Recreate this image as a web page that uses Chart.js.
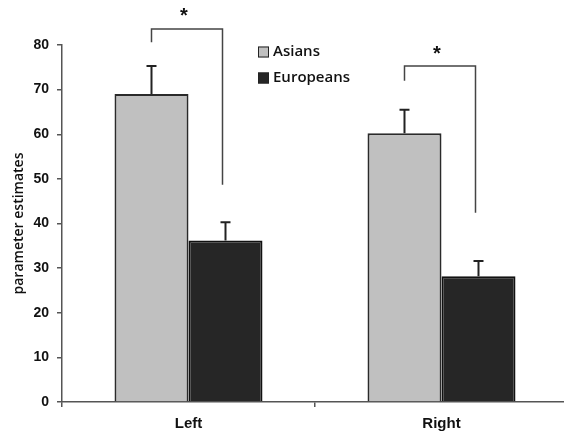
<!DOCTYPE html>
<html>
<head>
<meta charset="utf-8">
<script src="https://cdn.jsdelivr.net/npm/chart.js@4/dist/chart.umd.min.js"></script>
<style>
  html, body { margin: 0; padding: 0; background: #fff; overflow: hidden; }
  #wrap { width: 568px; height: 433px; position: relative; }
</style>
</head>
<body>
<div id="wrap"><canvas id="chart"></canvas></div>
<script>
const categories = ['Left', 'Right'];
const asians = [69.0, 60.2];
const europeans = [36.2, 28.2];
// upper error bar length
const asiansErr = [6.3, 5.3];
const europeansErr = [4.1, 3.4];
// significance brackets (in y units)
const bracketTop = [83.6, 75.3];
const bracketLeftEnd = [80.6, 72.0];
const bracketRightEnd = [48.7, 42.4];
const starY = [87.2, 78.8];
const yTicks = [0, 10, 20, 30, 40, 50, 60, 70, 80];

const ctx = document.getElementById('chart').getContext('2d');

const extras = {
  id: 'extras',
  afterDatasetsDraw(chart) {
    const c = chart.ctx;
    const y = chart.scales.y;
    const errs = [asiansErr, europeansErr];
    c.save();
    // error bars
    chart.data.datasets.forEach((ds, di) => {
      const meta = chart.getDatasetMeta(di);
      meta.data.forEach((bar, i) => {
        const top = y.getPixelForValue(ds.data[i] + errs[di][i]);
        c.strokeStyle = '#222';
        c.lineWidth = 2;
        c.beginPath();
        c.moveTo(bar.x, bar.y);
        c.lineTo(bar.x, top);
        c.moveTo(bar.x - 5, top);
        c.lineTo(bar.x + 5, top);
        c.stroke();
      });
    });
    // brackets
    const a = chart.getDatasetMeta(0).data;
    const e = chart.getDatasetMeta(1).data;
    categories.forEach((cat, i) => {
      const x1 = a[i].x, x2 = e[i].x - 3;
      c.strokeStyle = '#444';
      c.lineWidth = 1.5;
      c.beginPath();
      c.moveTo(x1, y.getPixelForValue(bracketLeftEnd[i]));
      c.lineTo(x1, y.getPixelForValue(bracketTop[i]));
      c.lineTo(x2, y.getPixelForValue(bracketTop[i]));
      c.lineTo(x2, y.getPixelForValue(bracketRightEnd[i]));
      c.stroke();
      c.fillStyle = '#111';
      c.font = 'bold 20px "Liberation Sans", Arial, sans-serif';
      c.textAlign = 'center';
      c.textBaseline = 'middle';
      c.fillText('*', (x1 + x2) / 2 - 3, y.getPixelForValue(starY[i]) + 4);
    });
    // legend
    c.font = '600 15px "Open Sans", sans-serif';
    c.textAlign = 'left';
    c.textBaseline = 'middle';
    chart.data.datasets.forEach((ds, di) => {
      const ly = 52 + di * 26;
      c.fillStyle = ds.backgroundColor;
      c.fillRect(258, ly - 5.5, 11, 11);
      c.strokeStyle = '#222';
      c.lineWidth = 1;
      c.strokeRect(258.5, ly - 5, 10, 10);
      c.fillStyle = '#111';
      c.fillText(ds.label, 273, ly);
    });
    c.restore();
  }
};

new Chart(ctx, {
  type: 'bar',
  data: {
    labels: categories,
    datasets: [
      { label: 'Asians', data: asians, backgroundColor: '#c0c0c0', borderColor: '#2a2a2a', borderWidth: 2 },
      { label: 'Europeans', data: europeans, backgroundColor: '#262626', borderColor: '#111', borderWidth: 2 }
    ]
  },
  options: {
    responsive: true,
    maintainAspectRatio: false,
    animation: false,
    layout: { padding: { top: 45, right: 0, left: 0, bottom: 0 } },
    datasets: { bar: { barPercentage: 1, categoryPercentage: 0.585 } },
    plugins: { legend: { display: false }, tooltip: { enabled: false } },
    scales: {
      x: {
        grid: { offset: true, drawOnChartArea: false, drawTicks: true, tickLength: 5, color: '#555', lineWidth: 1.5 },
        border: { display: true, color: '#555', width: 1.5 },
        ticks: { color: '#111', padding: 8, font: { family: '"Liberation Sans", Arial, sans-serif', size: 15, weight: 'bold' } },
        afterFit(scale) { scale.height = 31; }
      },
      y: {
        min: 0,
        max: 80,
        afterBuildTicks(scale) { scale.ticks = yTicks.map(v => ({ value: v })); },
        grid: { drawOnChartArea: false, drawTicks: true, tickLength: 5, color: '#555', lineWidth: 1.5 },
        border: { display: true, color: '#555', width: 1.5 },
        ticks: { color: '#111', padding: 8, font: { family: '"Liberation Sans", Arial, sans-serif', size: 14, weight: 'bold' } },
        title: { display: true, text: 'parameter estimates', color: '#111', padding: { top: 11, bottom: 0 }, font: { family: '"Open Sans", sans-serif', size: 14, weight: '600' } },
        afterFit(scale) { scale.width = 62; }
      }
    }
  },
  plugins: [extras]
});
</script>
</body>
</html>
